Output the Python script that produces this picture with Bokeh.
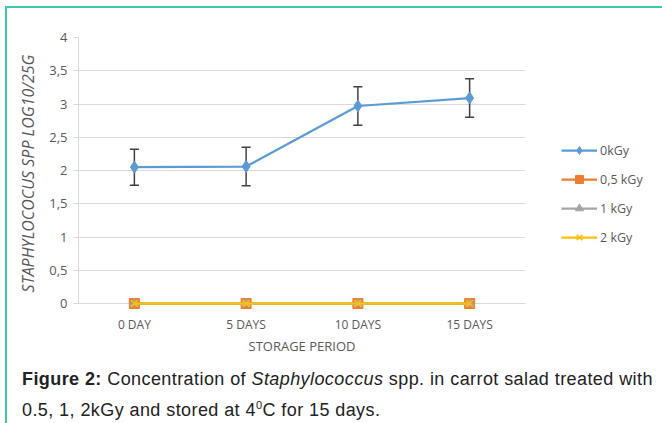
from bokeh.plotting import figure
from bokeh.models import (ColumnDataSource, Range1d, FixedTicker, Whisker, Legend,
                          LegendItem, Div)
from bokeh.layouts import column
from bokeh.embed import file_html
from bokeh.resources import INLINE

days = ["0 DAY", "5 DAYS", "10 DAYS", "15 DAYS"]
kgy0 = [2.05, 2.06, 2.97, 3.09]
kgy0_err = [0.27, 0.29, 0.29, 0.29]
kgy05 = [0, 0, 0, 0]
kgy1 = [0, 0, 0, 0]
kgy2 = [0, 0, 0, 0]
y_ticks = [0, 0.5, 1, 1.5, 2, 2.5, 3, 3.5, 4]
y_tick_labels = ["0", "0,5", "1", "1,5", "2", "2,5", "3", "3,5", "4"]

FONT = "Open Sans"
GRAY = "#595959"

p = figure(x_range=days, y_range=Range1d(-0.09, 4),
           frame_width=447, frame_height=272,
           output_backend="svg", toolbar_location=None,
           min_border_left=71, min_border_right=137, min_border_top=29,
           min_border_bottom=57)
p.outline_line_color = None
p.background_fill_color = "white"
p.border_fill_color = "white"

p.xgrid.grid_line_color = None
p.ygrid.grid_line_color = "#d9d9d9"
p.ygrid.ticker = FixedTicker(ticks=y_ticks)

p.yaxis.ticker = FixedTicker(ticks=y_ticks)
p.yaxis.bounds = (0, 4)
p.yaxis.major_label_overrides = {t: l for t, l in zip(y_ticks, y_tick_labels)}
p.yaxis.minor_tick_line_color = None
p.yaxis.major_tick_in = 0
p.yaxis.major_tick_out = 5
p.yaxis.major_tick_line_color = "#d9d9d9"
p.yaxis.axis_line_color = "#d9d9d9"
p.yaxis.major_label_text_font = FONT
p.yaxis.major_label_text_font_size = "13px"
p.yaxis.major_label_text_color = GRAY
p.yaxis.major_label_standoff = 6
p.yaxis.axis_label = "STAPHYLOCOCUS SPP LOG10/25G"
p.yaxis.axis_label_text_font = FONT
p.yaxis.axis_label_text_font_style = "italic"
p.yaxis.axis_label_text_font_size = "16px"
p.yaxis.axis_label_text_color = GRAY
p.yaxis.axis_label_standoff = 7

p.xaxis.major_tick_line_color = None
p.xaxis.minor_tick_line_color = None
p.xaxis.axis_line_color = None
p.xaxis.major_label_text_font = FONT
p.xaxis.major_label_text_font_size = "12px"
p.xaxis.major_label_text_color = GRAY
p.xaxis.major_label_standoff = 0
p.xaxis.axis_label = "STORAGE PERIOD"
p.xaxis.axis_label_text_font = FONT
p.xaxis.axis_label_text_font_style = "normal"
p.xaxis.axis_label_text_font_size = "13px"
p.xaxis.axis_label_text_color = GRAY
p.xaxis.axis_label_standoff = 1

src = ColumnDataSource(dict(x=days, k0=kgy0, k05=kgy05, k1=kgy1, k2=kgy2,
                            lo=[v - e for v, e in zip(kgy0, kgy0_err)],
                            hi=[v + e for v, e in zip(kgy0, kgy0_err)]))

whisk = Whisker(base="x", upper="hi", lower="lo", source=src,
                line_color="#404040", line_width=1.5)
for head in (whisk.upper_head, whisk.lower_head):
    head.size = 9
    head.line_color = "#404040"
    head.line_width = 1.5
p.add_layout(whisk)

BLUE = "#5b9bd5"
ORANGE = "#ed7d31"
GREY = "#a5a5a5"
YELLOW = "#ffc000"

l0 = p.line("x", "k0", source=src, line_color=BLUE, line_width=2.25)
m0 = p.scatter("x", "k0", source=src, marker="diamond", size=12,
               fill_color=BLUE, line_color=BLUE)
l05 = p.line("x", "k05", source=src, line_color=ORANGE, line_width=2.25)
m05 = p.scatter("x", "k05", source=src, marker="square", size=10,
                fill_color=ORANGE, line_color=ORANGE)
l1 = p.line("x", "k1", source=src, line_color=GREY, line_width=2.25)
m1 = p.scatter("x", "k1", source=src, marker="triangle", size=9,
               fill_color=GREY, line_color=GREY)
l2 = p.line("x", "k2", source=src, line_color=YELLOW, line_width=2.25)
m2 = p.scatter("x", "k2", source=src, marker="x", size=10,
               line_color=YELLOW, line_width=1.5)

legend = Legend(items=[
    LegendItem(label="0kGy", renderers=[l0, m0]),
    LegendItem(label="0,5 kGy", renderers=[l05, m05]),
    LegendItem(label="1 kGy", renderers=[l1, m1]),
    LegendItem(label="2 kGy", renderers=[l2, m2]),
], location=(36, 62))
legend.border_line_color = None
legend.background_fill_alpha = 0
legend.label_text_font = FONT
legend.label_text_font_size = "12.5px"
legend.label_text_color = GRAY
legend.glyph_width = 36
legend.glyph_height = 20
legend.label_height = 20
legend.label_standoff = 3
legend.spacing = 9
legend.padding = 0
legend.margin = 0
p.add_layout(legend, "right")

caption = Div(
    text=('<div style="font-family:\'Liberation Sans\',Arial,sans-serif;'
          'font-size:18px;line-height:26px;letter-spacing:0.42px;color:#222;'
          'padding-left:15px;padding-top:0px;white-space:nowrap;">'
          '<b>Figure 2:</b> Concentration of <i>Staphylococcus</i> spp. in carrot salad treated with<br>'
          '0.5, 1, 2kGy and stored at 4<sup style="font-size:11px">0</sup>C for 15 days.</div>'),
    width=655, height=57, margin=0)

layout = column(p, caption, spacing=0, margin=(6, 0, 0, 5),
                styles={"border-left": "2px solid #3cc8b0",
                        "border-top": "2px solid #3cc8b0"})

open("out.html", "w").write(file_html(layout, INLINE))
